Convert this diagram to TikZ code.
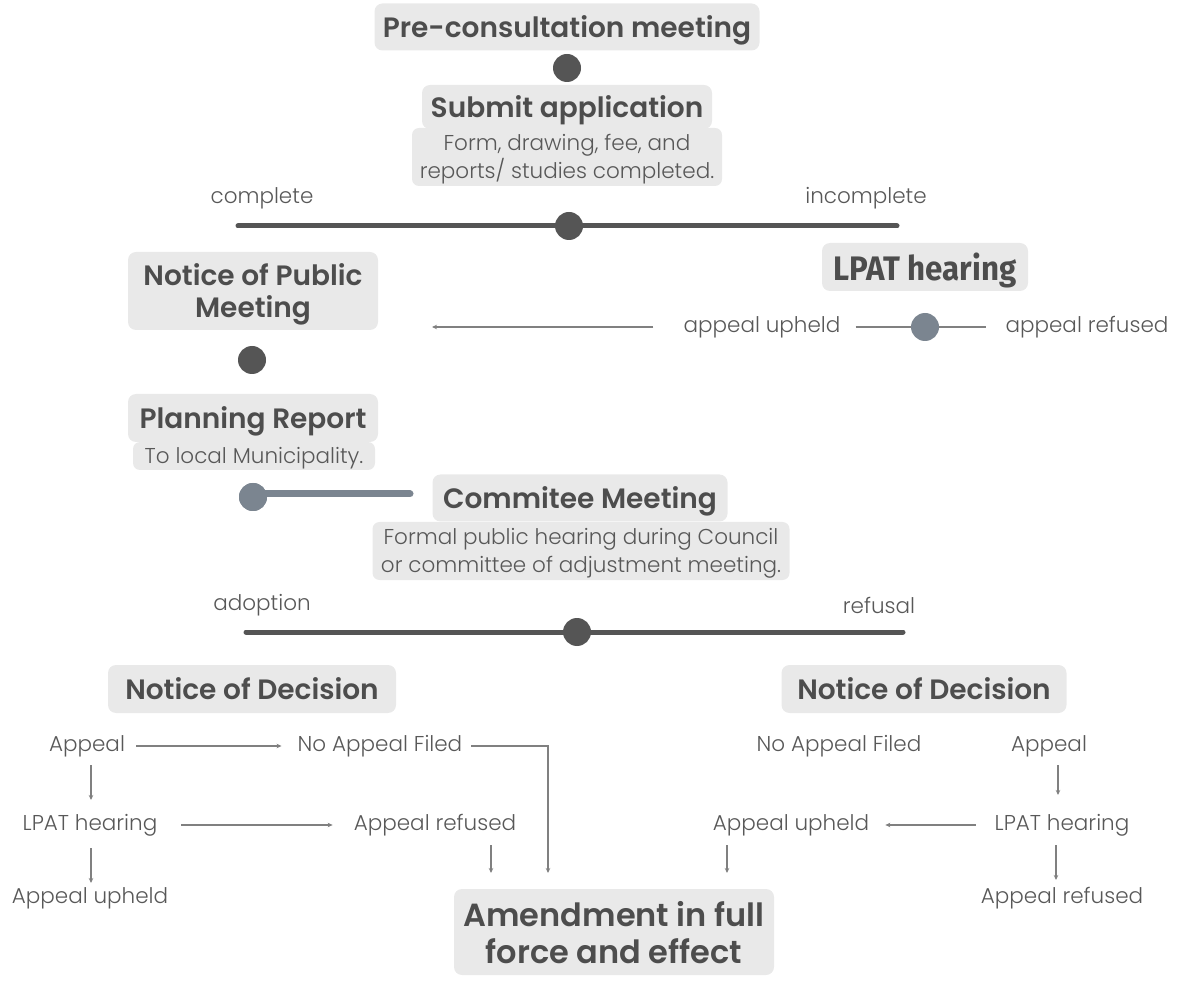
\documentclass[tikz,border=0pt]{standalone}
\usepackage{fontspec}
\usepackage{graphicx}
\setmainfont{Poppins}
\newfontfamily\headfont{Poppins}[UprightFont=* SemiBold]
\newfontfamily\bodyfont{Poppins}[UprightFont=* Light]
\newfontfamily\condfont{Fira Sans}
\usetikzlibrary{arrows.meta,calc}
\definecolor{boxgray}{HTML}{E9E9E9}
\definecolor{headtxt}{HTML}{4D4D4D}
\definecolor{bodytxt}{HTML}{585858}
\definecolor{dotdark}{HTML}{555555}
\definecolor{dotblue}{HTML}{7B8590}
\definecolor{arrgray}{HTML}{808080}
\tikzset{
  headbox/.style={fill=boxgray, rounded corners=8pt, text=headtxt, inner sep=0pt,
    font=\headfont\fontsize{28}{32}\selectfont, align=center, text depth=1pt},
  subbox/.style={fill=boxgray, rounded corners=7pt, text=bodytxt, inner sep=0pt,
    font=\bodyfont\fontsize{21.5}{28.5}\selectfont, align=center, text depth=1.5pt},
  lbl/.style={text=bodytxt, inner sep=0pt, font=\bodyfont\fontsize{21.5}{24}\selectfont},
  bigdot/.style={circle, fill=dotdark, minimum size=28pt, inner sep=0pt},
  bluedot/.style={circle, fill=dotblue, minimum size=28pt, inner sep=0pt},
  thickline/.style={draw=dotdark, line width=5pt, line cap=round},
  thinarr/.style={draw=arrgray, line width=1.4pt, -{Stealth[length=5pt,width=4.5pt]}},
  thinline/.style={draw=arrgray, line width=1.6pt},
}
\begin{document}
\begin{tikzpicture}[x=1pt,y=-1pt]
\useasboundingbox (0,0) rectangle (1179,981);
% top
\node[headbox, minimum width=385pt, minimum height=47pt] (pre) at (567,27) {Pre-consultation meeting};
\node[bigdot] (d1) at (567,68) {};
\node[subbox, minimum width=310pt, minimum height=58pt] (subsub) at (567,157) {Form, drawing, fee, and\\reports/ studies completed.};
\node[headbox, minimum width=290pt, minimum height=44pt] (sub) at (567,107) {Submit application};
\node[lbl] (compl) at (262,198) {complete};
\node[lbl] (incompl) at (866,198) {incomplete};
\coordinate (t1l) at (238,226);
\coordinate (t1r) at (897,226);
\draw[thickline] (t1l) -- (t1r);
\node[bigdot] (d2) at (569,226) {};
% left column
\node[headbox, minimum width=250pt, minimum height=78pt] (npm) at (253,291) {Notice of Public\\Meeting};
\node[bigdot] (d3) at (252,360) {};
\node[subbox, minimum width=242pt, minimum height=28pt] (prsub) at (254,456) {To local Municipality.};
\node[headbox, minimum width=250pt, minimum height=48pt] (pr) at (253,418) {Planning Report};
\coordinate (slr) at (410,494);
\node[bluedot] (d4) at (253,497) {};
\draw[draw=dotblue, line width=7pt, line cap=round] (d4.center) ++(0,-3) -- (slr);
\node[bluedot] at (253,497) {};
% right LPAT
\node[headbox, minimum width=206pt, minimum height=48pt, font=\condfont\bfseries\fontsize{34}{36}\selectfont] (lpat) at (925,267) {\scalebox{0.92}[1]{LPAT hearing}};
\node[lbl] (aup) at (762,327) {appeal upheld};
\node[lbl] (aref) at (1087,327) {appeal refused};
\node[bluedot] (d5) at (925,327) {};
\draw[thinline] ($(aup.east)+(15,0)$) -- (d5.west);
\draw[thinline] (d5.east) -- ($(aref.west)+(-19,0)$);
\coordinate (aupend) at (432,327);
\draw[thinarr] ($(aup.west)+(-30,0)$) -- (aupend);
% committee
\node[subbox, minimum width=417pt, minimum height=58pt] (cmsub) at (581,551) {Formal public hearing during Council\\or committee of adjustment meeting.};
\node[headbox, minimum width=295pt, minimum height=47pt] (cm) at (580,498) {Commitee Meeting};
\node[lbl] (adopt) at (262,605) {adoption};
\node[lbl] (refus) at (879,605) {refusal};
\coordinate (t2l) at (246,632);
\coordinate (t2r) at (903,632);
\draw[thickline] (t2l) -- (t2r);
\node[bigdot] (d6) at (577,632) {};
% notice of decision
\node[headbox, minimum width=288pt, minimum height=48pt] (ndl) at (252,689) {Notice of Decision};
\node[headbox, minimum width=285pt, minimum height=48pt] (ndr) at (924,689) {Notice of Decision};
% lower left
\node[lbl] (lap) at (87,746) {Appeal};
\node[lbl] (lnaf) at (380,746) {No Appeal Filed};
\node[lbl] (llpat) at (90,825) {LPAT hearing};
\node[lbl] (lref) at (435,825) {Appeal refused};
\node[lbl] (lup) at (90,898) {Appeal upheld};
% lower right
\node[lbl] (rnaf) at (839,746) {No Appeal Filed};
\node[lbl] (rap) at (1049,746) {Appeal};
\node[lbl] (rlpat) at (1062,825) {LPAT hearing};
\node[lbl] (rup) at (791,825) {Appeal upheld};
\node[lbl] (rref) at (1062,898) {Appeal refused};
% amendment
\node[headbox, minimum width=320pt, minimum height=86pt, font=\headfont\fontsize{32}{37}\selectfont, text depth=-9pt] (amend) at (614,932) {Amendment in full\\force and effect};
% lower-left arrows
\draw[thinarr] ($(lap.east)+(11,0)$) -- ($(lnaf.west)+(-16,0)$);
\coordinate (c1) at (548,873);
\draw[thinarr] ($(lnaf.east)+(9,0)$) -| (c1);
\draw[thinarr] (91,765) -- (91,800);
\draw[thinarr] ($(llpat.east)+(24,0)$) -- ($(lref.west)+(-21,0)$);
\draw[thinarr] (91,848) -- (91,883);
\coordinate (c2) at (491,873);
\draw[thinarr] (491,845) -- (c2);
% lower-right arrows
\draw[thinarr] (1058,765) -- (1058,795);
\draw[thinarr] ($(rlpat.west)+(-19,0)$) -- ($(rup.east)+(16,0)$);
\coordinate (c3) at (727,873);
\draw[thinarr] (727,845) -- (c3);
\draw[thinarr] (1056,845) -- (1056,880);
\end{tikzpicture}
\end{document}
